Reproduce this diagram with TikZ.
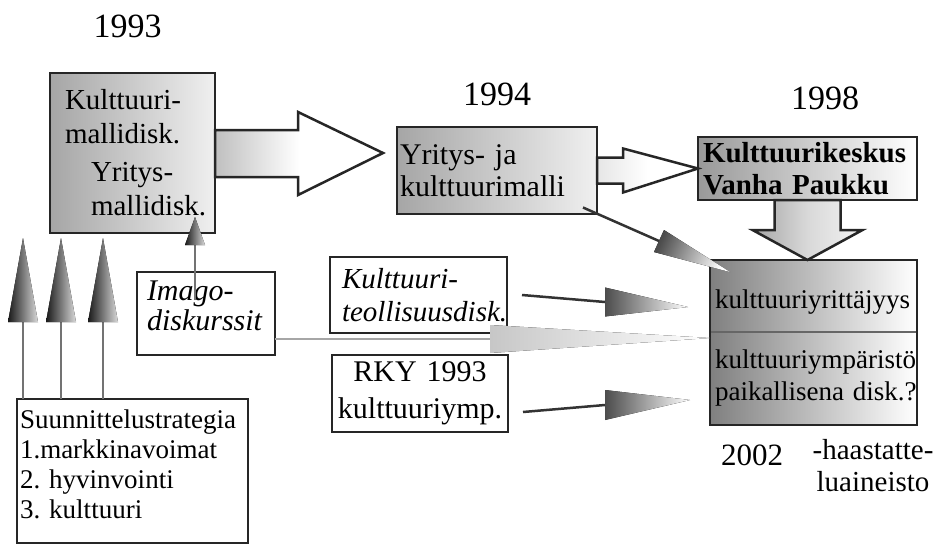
\documentclass[tikz,border=0pt]{standalone}
\usepackage{fontspec}
\setmainfont{Liberation Serif}
\frenchspacing
\hyphenpenalty=10000
\exhyphenpenalty=10000

\tikzset{
  box/.style={draw=black!85, line width=2.5pt, inner sep=0pt, outer sep=0pt, align=left},
  whitebox/.style={box, fill=white},
  greybox/.style={box, left color=black!35, right color=black!6},
  dpart/.style={inner sep=0pt, outer sep=0pt, align=left, left color=black!50, right color=white, font=\fontsize{27}{32}\selectfont},
  blockarrow/.style={draw=black!85, line width=2.5pt, line join=miter, left color=black!25, right color=white, middle color=white},
  stem/.style={black!80, line width=2.5pt},
  upstem/.style={black!55, line width=2pt},
  lightstem/.style={black!35, line width=2pt},
  cone/.style={left color=black!70, right color=white},
  upcone/.style={left color=black!90, right color=black!15},
  lightcone/.style={left color=black!22, right color=white},
  yearlabel/.style={inner sep=0pt, font=\fontsize{34}{36}\selectfont},
}

\begin{document}
\begin{tikzpicture}[x=1pt,y=-1pt]
  \useasboundingbox (0,0) rectangle (941,546);

  % vuosiluvut
  \node[yearlabel] (y1993) at (127.5,26) {1993};
  \node[yearlabel] (y1994) at (497,94) {1994};
  \node[yearlabel] (y1998) at (825,98) {1998};
  \node[yearlabel, font=\fontsize{31}{33}\selectfont] (y2002) at (752,455) {2002};
  \node[inner sep=0pt, align=center, font=\fontsize{29}{32}\selectfont] (haast) at (873,466) {-haastatte-\\luaineisto};

  % laatikot
  \node[greybox, minimum width=165pt, minimum height=160pt, text width=135pt, font=\fontsize{29}{34}\selectfont] (malli93) at (132.5,153) {Kulttuuri-\\mallidisk.\\[4pt]\hspace*{26pt}Yritys-\\\hspace*{26pt}mallidisk.};
  \node[greybox, minimum width=200pt, minimum height=87pt, text width=194pt, font=\fontsize{30}{32}\selectfont] (yritys94) at (497,170.5) {Yritys- ja\\kulttuurimalli};
  \node[greybox, left color=black!40, right color=white, minimum width=219pt, minimum height=63pt, text width=209pt, font=\bfseries\fontsize{29}{32}\selectfont] (kesk98) at (807.5,168.5) {Kulttuurikeskus\\Vanha Paukku};

  \node[dpart, minimum width=207pt, minimum height=72pt, text width=197pt, text height=30pt] (yrittajyys) at (813.5,296) {kulttuuriyrittäjyys};
  \node[dpart, minimum width=207pt, minimum height=93pt, text width=197pt] (ymparisto) at (813.5,378.5) {kulttuuriympäristö\\\mbox{paikallisena disk.?}};
  \draw[black!60, line width=1.5pt] (yrittajyys.south west) -- (yrittajyys.south east);
  \draw[draw=black!85, line width=2.5pt] (yrittajyys.north west) rectangle (ymparisto.south east);

  \node[whitebox, minimum width=177pt, minimum height=76pt, text width=153pt, font=\itshape\fontsize{29}{33}\selectfont] (teol) at (418.5,295) {Kulttuuri-\\teollisuusdisk.};
  \node[whitebox, align=center, minimum width=176pt, minimum height=77pt, text width=170pt, font=\fontsize{30}{37}\selectfont] (rky) at (420,393.5) {RKY 1993\\kulttuuriymp.};
  \node[whitebox, minimum width=138pt, minimum height=83pt, text width=118pt, text depth=45pt, font=\itshape\fontsize{30}{30}\selectfont] (imago) at (206,313.5) {Imago-\\diskurssit};
  \node[whitebox, minimum width=231pt, minimum height=144pt, text width=225pt, text depth=104pt, font=\fontsize{27}{30}\selectfont] (suun) at (132.5,471) {Suunnittelustrategia\\1.markkinavoimat\\2. hyvinvointi\\3. kulttuuri};

  % isot nuolet
  \draw[blockarrow] ([yshift=23pt]malli93.east) -- ++(83,0) -- ++(0,-18) -- ([xshift=168pt]malli93.east) -- ++(-85,42) -- ++(0,-18) -- ([yshift=-24pt]malli93.east) -- cycle;
  \draw[blockarrow, left color=black!10, right color=white, middle color=white] ([yshift=13pt]yritys94.east) -- ++(26,0) -- ++(0,-9) -- (kesk98.west) -- ([shift={(26,22)}]yritys94.east) -- ++(0,-9) -- ([yshift=-13pt]yritys94.east) -- cycle;
  \draw[blockarrow, left color=black!35, right color=black!5, middle color=black!15] ([xshift=-33pt]kesk98.south) -- ++(0,30) -- ++(-22,0) -- (kesk98.south |- yrittajyys.north) -- ([shift={(55,30)}]kesk98.south) -- ++(-22,0) -- ([xshift=33pt]kesk98.south) -- cycle;

  % suunnittelustrategiasta ylos
  \draw[upstem] ([xshift=6pt]suun.north west) -- ++(0,-77) coordinate (markkina);
  \fill[upcone] ([xshift=-15pt]markkina) -- ([xshift=15pt]markkina) -- ([yshift=84pt]markkina) -- cycle;
  \draw[upstem] ([xshift=44pt]suun.north west) -- ++(0,-77) coordinate (hyvinvointi);
  \fill[upcone] ([xshift=-15pt]hyvinvointi) -- ([xshift=15pt]hyvinvointi) -- ([yshift=84pt]hyvinvointi) -- cycle;
  \draw[upstem] ([xshift=86pt]suun.north west) -- ++(0,-77) coordinate (kulttuuri);
  \fill[upcone] ([xshift=-15pt]kulttuuri) -- ([xshift=15pt]kulttuuri) -- ([yshift=84pt]kulttuuri) -- cycle;

  % imagodiskurssit
  \draw[upstem] ([shift={(-11,28)}]imago.north) -- ++(0,-55) coordinate (imagoylos);
  \fill[upcone] ([xshift=-10pt]imagoylos) -- ([xshift=10pt]imagoylos) -- ([yshift=28pt]imagoylos) -- cycle;
  \draw[lightstem] ([yshift=-25.5pt]imago.east) -- ++(215,0) coordinate (imagohead);
  \fill[lightcone] ([yshift=14pt]imagohead) -- ([yshift=-14pt]imagohead) -- ([yshift=-6pt]yrittajyys.south west) -- cycle;

  % kohti vuotta 2002
  \coordinate (teolhead) at (605,302);
  \draw[stem] ([xshift=15pt]teol.east) -- (teolhead);
  \fill[cone] ([yshift=14.5pt]teolhead) -- ([yshift=-14.5pt]teolhead) -- ([shift={(83,5)}]teolhead) -- cycle;

  \coordinate (rkyhead) at (605,405);
  \draw[stem] ([shift={(15,18.5)}]rky.east) -- (rkyhead);
  \fill[cone] ([yshift=15pt]rkyhead) -- ([yshift=-15pt]rkyhead) -- ([shift={(85,-5)}]rkyhead) -- cycle;

  \coordinate (diaghead) at (659,241);
  \draw[stem] ([shift={(-14,-6.5)}]yritys94.south east) -- (diaghead);
  \fill[cone, shading angle=66.4] ([shift={(5,-11)}]diaghead) -- ([shift={(-5,11)}]diaghead) -- ([shift={(71,31)}]diaghead) -- cycle;
\end{tikzpicture}
\end{document}
